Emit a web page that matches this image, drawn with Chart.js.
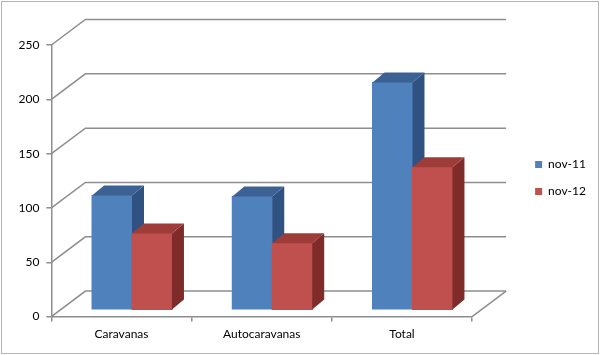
<!DOCTYPE html>
<html>
<head>
<meta charset="utf-8">
<script src="https://cdn.jsdelivr.net/npm/chart.js@4.4.1/dist/chart.umd.min.js"></script>
<style>
  html, body { margin: 0; padding: 0; background: #ffffff; }
  #wrap { width: 600px; height: 355px; position: relative; }
</style>
</head>
<body>
<div id="wrap"><canvas id="c" width="600" height="355"></canvas></div>
<script>
// ---- data ----
const categories = ['Caravanas', 'Autocaravanas', 'Total'];
const seriesNames = ['nov-11', 'nov-12'];
const nov11 = [105, 104, 209];
const nov12 = [70, 61, 131];
const yTicks = [0, 50, 100, 150, 200, 250];

// ---- styles ----
const FRONT = ['#4F81BD', '#C0504D'];
const TOP = ['#3C6294', '#9E3C3A'];
const SIDE = ['#2F5283', '#7E2B29'];
const GRID = '#8e8e8e';
const WALL_DX = 34, WALL_DY = 25.5;   // depth of the back wall
const PLANE_DX = 10.5, PLANE_DY = 7;  // bars sit in a plane behind the front axes
const BAR_DX = 12, BAR_DY = 10;       // depth of each bar

Chart.defaults.font.family = 'Lato, "Liberation Sans", sans-serif';
Chart.defaults.font.size = 12;
Chart.defaults.color = '#000000';

function drawFaces(ctx, el, i) {
  const {x, y, base, width} = el.getProps(['x', 'y', 'base', 'width'], true);
  const l = x - width / 2, r = x + width / 2;
  ctx.fillStyle = SIDE[i];
  ctx.beginPath();
  ctx.moveTo(r, y); ctx.lineTo(r + BAR_DX, y - BAR_DY);
  ctx.lineTo(r + BAR_DX, base - BAR_DY); ctx.lineTo(r, base);
  ctx.closePath(); ctx.fill();
  ctx.fillStyle = TOP[i];
  ctx.beginPath();
  ctx.moveTo(l, y); ctx.lineTo(l + BAR_DX, y - BAR_DY);
  ctx.lineTo(r + BAR_DX, y - BAR_DY); ctx.lineTo(r, y);
  ctx.closePath(); ctx.fill();
}

const threeD = {
  id: 'threeD',
  beforeDraw(chart) {
    const ctx = chart.ctx;
    ctx.save();
    ctx.fillStyle = '#ffffff';
    ctx.fillRect(0, 0, chart.width, chart.height);
    ctx.strokeStyle = '#b4b4b4';
    ctx.lineWidth = 1;
    ctx.strokeRect(1.5, 1.5, chart.width - 3, chart.height - 3);
    ctx.restore();
  },
  afterLayout(chart) {
    const xb = chart.scales.xb, yb = chart.scales.yb;
    xb.left += PLANE_DX; xb.right += PLANE_DX; xb.configure();
    yb.top -= PLANE_DY; yb.bottom -= PLANE_DY; yb.configure();
  },
  beforeDatasetsDraw(chart) {
    const ctx = chart.ctx, y = chart.scales.y, a = chart.chartArea;
    ctx.save();
    ctx.strokeStyle = GRID;
    ctx.lineWidth = 1.5;
    ctx.lineJoin = 'miter';
    yTicks.forEach(v => {
      const py = y.getPixelForValue(v);
      ctx.beginPath();
      ctx.moveTo(a.left, py);
      ctx.lineTo(a.left + WALL_DX, py - WALL_DY);
      ctx.lineTo(a.right + WALL_DX, py - WALL_DY);
      ctx.stroke();
    });
    const p0 = y.getPixelForValue(0);
    ctx.beginPath();
    ctx.moveTo(a.right, p0);
    ctx.lineTo(a.right + WALL_DX, p0 - WALL_DY);
    ctx.stroke();
    ctx.restore();
  },
  afterDatasetsDraw(chart) {
    const ctx = chart.ctx;
    const m0 = chart.getDatasetMeta(0), m1 = chart.getDatasetMeta(1);
    ctx.save();
    m0.data.forEach(el => drawFaces(ctx, el, 0));
    m1.data.forEach(el => { el.draw(ctx, chart.chartArea); drawFaces(ctx, el, 1); });
    ctx.restore();
  }
};

const barOpts = { categoryPercentage: 0.57, barPercentage: 1.0, borderWidth: 0, inflateAmount: 0.5, xAxisID: 'xb', yAxisID: 'yb' };

new Chart(document.getElementById('c'), {
  type: 'bar',
  data: {
    labels: categories,
    datasets: [
      Object.assign({ label: seriesNames[0], data: nov11, backgroundColor: FRONT[0] }, barOpts),
      Object.assign({ label: seriesNames[1], data: nov12, backgroundColor: FRONT[1] }, barOpts)
    ]
  },
  options: {
    responsive: false,
    animation: false,
    devicePixelRatio: 1,
    layout: { padding: { left: 11.5, top: 10, right: 4, bottom: 9 } },
    plugins: {
      legend: {
        position: 'right',
        fullSize: true,
        labels: { boxWidth: 7, boxHeight: 7, padding: 15, color: '#000' }
      },
      tooltip: { enabled: false }
    },
    scales: {
      x: {
        type: 'category',
        position: 'bottom',
        offset: true,
        grid: { offset: true, drawOnChartArea: false, tickLength: 5, color: GRID, lineWidth: 1.5 },
        border: { display: true, color: GRID, width: 1.5 },
        ticks: { padding: 5, color: '#000', maxRotation: 0 }
      },
      y: {
        type: 'linear',
        position: 'left',
        min: 0, max: 250,
        afterBuildTicks: s => { s.ticks = yTicks.map(v => ({ value: v })); },
        grid: { drawOnChartArea: false, tickLength: 5, color: GRID, lineWidth: 1.5 },
        border: { display: true, color: GRID, width: 1.5 },
        ticks: { padding: 7, color: '#000' }
      },
      xb: {
        type: 'category',
        position: 'top',
        display: true,
        offset: true,
        ticks: { display: false },
        grid: { display: false, offset: true },
        border: { display: false },
        afterFit: s => { s.height = 35; }
      },
      yb: {
        type: 'linear',
        position: 'right',
        min: 0, max: 250,
        display: true,
        ticks: { display: false },
        grid: { display: false },
        border: { display: false },
        afterFit: s => { s.width = 48; }
      }
    }
  },
  plugins: [threeD]
});
</script>
</body>
</html>
